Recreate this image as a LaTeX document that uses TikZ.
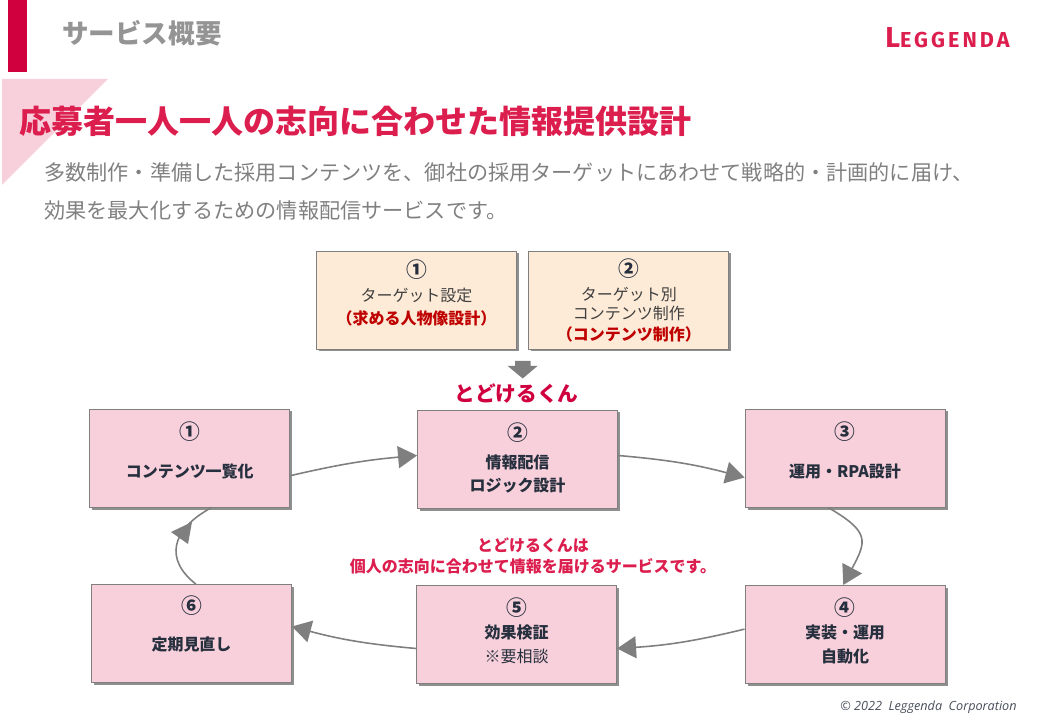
\documentclass[tikz,border=0pt]{standalone}
\usepackage{fontspec}
\setmainfont{Noto Sans CJK JP}
\newfontfamily\logofont{Fira Sans}[LetterSpace=14.0]
\newfontfamily\copyfont{Open Sans}
\usepackage{tikz}
\usetikzlibrary{positioning, shadows, arrows.meta}
\definecolor{Crimson}{HTML}{D0003F}
\definecolor{TitleRed}{HTML}{DC1E4E}
\definecolor{PinkFill}{HTML}{F8D0DB}
\definecolor{CreamFill}{HTML}{FDEBD7}
\definecolor{Ink}{HTML}{262F3D}
\definecolor{Flow}{HTML}{7F7F7F}
\newcommand{\pxfont}[1]{\fontsize{#1}{#1}\selectfont}
\tikzstyle{Box} = [rectangle, minimum width = 40mm, minimum height = 19.6mm, inner sep = 0mm, align = center, draw=Flow, line width = 0.5pt, drop shadow={shadow xshift=0.5mm, shadow yshift=-0.5mm, fill=black!55, opacity=0.8}, text = Ink]
\tikzstyle{Pink} = [Box, fill = PinkFill, font = \pxfont{9.1}\bfseries]
\tikzstyle{Cream} = [Box, fill = CreamFill, font = \pxfont{9.1}, text = black!75]
\tikzstyle{Flowline} = [Flow, line width = 0.9pt, -{Triangle[length=3.8mm, width=4.4mm]}]
\newcommand{\num}[1]{{\pxfont{11.8}\bfseries\color{Ink} #1}}
\newcommand{\redtxt}[1]{{\color{red!75!black}\bfseries #1}}

\begin{document}
\begin{tikzpicture}[x=0.2mm, y=-0.2mm]
    \useasboundingbox (0,0) rectangle (1040,720);

    %%%%%%%%%%%%%%%%%%%%%%
    \fill [PinkFill] (2,79) -- (108,79) -- (2,185) -- cycle;
    \fill [Crimson] (8,0) rectangle (27,72);
    \node [anchor=west, inner sep=0mm, font=\pxfont{15.1}\bfseries, text=black!42] (header) at (62,33) {サービス概要};
    \node [anchor=west, inner sep=0mm, font=\logofont\bfseries, text=TitleRed] (logo) at (885,38) {{\pxfont{16.4}L}{\pxfont{12.3}EGGENDA}};
    \node [anchor=west, inner sep=0mm, font=\pxfont{18.22}\bfseries, text=TitleRed] (title) at (19,121) {応募者一人一人の志向に合わせた情報提供設計};
    \node [anchor=west, inner sep=0mm, font=\pxfont{12.03}, text=black!50] (desc1) at (44,172) {多数制作・準備した採用コンテンツを、御社の採用ターゲットにあわせて戦略的・計画的に届け、};
    \node [anchor=west, inner sep=0mm, font=\pxfont{12.03}, text=black!50] (desc2) at (44,211) {効果を最大化するための情報配信サービスです。};

    %%%%%%%%%%%%%%%%%%%%%%
    \node[Cream] (input1) at (416.5,300) {\num{①}\\[4.3pt] ターゲット設定\\[4.1pt] \redtxt{（求める人物像設計）}\\[-0.5pt]};
    \node[Cream] (input2) [right=2.3mm of input1] {\num{②}\\[5pt] ターゲット別\\[1.5pt] コンテンツ制作\\[2.6pt] \redtxt{（コンテンツ制作）}};
    \fill [Flow] (515,361) -- (530.5,361) -- (530.5,366) -- (537.5,366) -- (522.7,378.5) -- (507.7,366) -- (515,366) -- cycle;
    \node [inner sep=0mm, font=\pxfont{11.8}\bfseries, text=Crimson] (brand) at (516.5,394) {とどけるくん};

    %%%%%%%%%%%%%%%%%%%%%%
    \node[Pink] (b1) at (189.75,458) {\num{①}\\[12pt] コンテンツ一覧化\\[0.4pt]};
    \node[Pink] (b2) at (517.5,459) {\num{②}\\[6.5pt] 情報配信\\[4.2pt] ロジック設計\\[-7.4pt]};
    \node[Pink] (b3) at (845,458) {\num{③}\\[12pt] 運用・RPA設計\\[0.4pt]};
    \node[Pink] (b4) [below=15.5mm of b3] {\num{④}\\[4.3pt] 実装・運用\\[4.2pt] 自動化\\[-4pt]};
    \node[Pink] (b5) [left=25.5mm of b4] {\num{⑤}\\[4.3pt] 効果検証\\[4.2pt] {\mdseries ※要相談}\\[-4pt]};
    \node[Pink] (b6) at (191.5,633.5) {\num{⑥}\\[12pt] 定期見直し\\[2.7pt]};

    \node [inner sep=0mm, align=center, font=\pxfont{9.1}\bfseries, text=TitleRed] (note) at (533,556) {とどけるくんは\\[3.2pt] 個人の志向に合わせて情報を届けるサービスです。};
    \node [anchor=east, inner sep=0mm, font=\copyfont\itshape\pxfont{7.2}, text=Ink!85] (copy) at (1017,707) {©\ 2022\ \ Leggenda\ \ Corporation};

    \draw[Flowline] (b1.-10) to [bend left=4] (b2.178);
    \draw[Flowline] (b2.2) to [bend left=5] (b3.191);
    \draw[Flowline] (b3.251) to [out=-30, in=62, looseness=1.6] (b4.92);
    \draw[Flowline] (b4.177) to [bend left=5] (b5.-8);
    \draw[Flowline] (b5.188) to [bend left=5] (b6.4);
    \draw[Flow, line width=0.9pt] (b6.85) .. controls (165,560) and (170,530) .. (b1.-66);
    \fill [Flow] (171,532) -- (192,522) -- (188,544) -- cycle;

\end{tikzpicture}
\end{document}
